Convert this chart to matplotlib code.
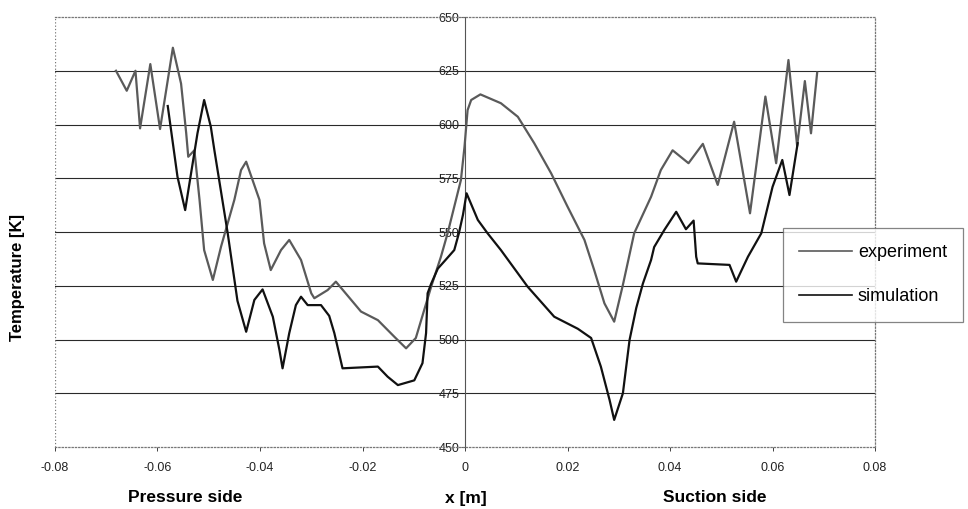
import matplotlib
matplotlib.use("Agg")
from matplotlib import pyplot as plt

plt.rcParams['font.family'] = ['Liberation Sans', 'DejaVu Sans']

# experiment (upper curve near x=0)
exp_x = [-0.0681, -0.066, -0.0643, -0.0634, -0.0614, -0.0595, -0.057, -0.0554, -0.0544,
         -0.054, -0.0528, -0.0518, -0.0509, -0.0492, -0.0476, -0.045, -0.0437, -0.0427,
         -0.0401, -0.0392, -0.0379, -0.0359, -0.0343, -0.032, -0.030, -0.0294, -0.0268,
         -0.0252, -0.0203, -0.017, -0.0138, -0.0115, -0.0096, -0.0066, -0.0047, -0.0034,
         -0.0021, -0.0008, -0.0001, 0.0005, 0.0012, 0.003, 0.007, 0.0103, 0.0135, 0.0168,
         0.020, 0.0233, 0.0252, 0.0272, 0.0291, 0.0308, 0.033, 0.0363, 0.0382, 0.0405,
         0.0436, 0.0464, 0.0493, 0.0525, 0.0556, 0.0586, 0.0607, 0.0631, 0.0648, 0.0663,
         0.0675, 0.0687]
exp_t = [625, 615.7, 625, 598.2, 628.1, 597.9, 635.7, 619, 596,
         585, 588, 565, 541.6, 527.7, 543.2, 565, 578.8, 582.7,
         564.9, 544.7, 532.3, 541.6, 546.3, 537, 521.5, 519.2, 523,
         526.9, 513, 509, 501.3, 495.9, 500.7, 524.6, 538.5, 549.4,
         561.8, 574.2, 589.7, 606.7, 611.4, 614, 609.9, 603.6, 591.3, 577.3,
         561.8, 546.3, 532.3, 516.8, 508.3, 525.4, 549.4, 566.4, 578.8, 588,
         582, 591, 571.9, 601.3, 558.7, 613, 582, 630, 590, 620.2,
         595.9, 624.1]

# simulation (lower curve near x=0)
sim_x = [-0.058, -0.0561, -0.0546, -0.0522, -0.0509, -0.0496, -0.0489, -0.0463, -0.0444,
         -0.0427, -0.0411, -0.0395, -0.0375, -0.0362, -0.0356, -0.0343, -0.033, -0.032,
         -0.0307, -0.0281, -0.0265, -0.0255, -0.0239, -0.017, -0.0151, -0.0131, -0.0099,
         -0.0083, -0.0076, -0.0073, -0.0066, -0.0053, -0.0038, -0.0021, -0.0012, -0.0004,
         0.0003, 0.0025, 0.0044, 0.007, 0.0122, 0.0174, 0.022, 0.0246, 0.0265, 0.0282,
         0.0291, 0.0308, 0.0321, 0.0334, 0.0347, 0.0363, 0.0369, 0.0389, 0.0412, 0.0431,
         0.0446, 0.0451, 0.0454, 0.0516, 0.0529, 0.0552, 0.0578, 0.060, 0.0619, 0.0633,
         0.0649]
sim_t = [608.6, 575.7, 560.2, 595.9, 611.4, 599, 588, 549.4, 518,
         503.6, 518.4, 523.3, 510.6, 495, 486.6, 502.9, 516, 519.9,
         516, 516, 511, 503, 486.6, 487.4, 482.7, 478.8, 481,
         489, 503, 521.5, 526, 533, 537, 541.6, 549.4, 558,
         568, 555.6, 549.4, 541.6, 524.6, 510.6, 505, 500.7, 487.4, 471.9,
         462.6, 475, 499.8, 514.6, 526, 537, 543, 551, 559.4, 551.3,
         555.3, 538.5, 535.4, 534.7, 526.9, 538.5, 549.4, 571, 583.5, 567.2,
         591.3]

x_ticks = [-0.08, -0.06, -0.04, -0.02, 0, 0.02, 0.04, 0.06, 0.08]
x_tick_labels = ['-0.08', '-0.06', '-0.04', '-0.02', '0', '0.02', '0.04', '0.06', '0.08']
y_ticks = [450, 475, 500, 525, 550, 575, 600, 625, 650]

fig = plt.figure(figsize=(9.68, 5.09), dpi=100)
ax = fig.add_axes([0.0568, 0.1218, 0.8472, 0.8448])

for t in y_ticks[1:-1]:
    ax.axhline(t, color='#2a2a2a', lw=0.8, zorder=1)

ax.plot(exp_x, exp_t, color='#5a5a5a', lw=1.6, label='experiment', zorder=3)
ax.plot(sim_x, sim_t, color='#111111', lw=1.6, label='simulation', zorder=3)

ax.set_xlim(-0.08, 0.08)
ax.set_ylim(450, 650)
ax.set_xticks(x_ticks)
ax.set_xticklabels(x_tick_labels)
ax.set_yticks(y_ticks)

# y axis sits at x = 0
ax.spines['left'].set_position(('data', 0))
ax.spines['left'].set_color('#555555')
ax.spines['left'].set_linewidth(0.8)
for s in ['top', 'right', 'bottom']:
    ax.spines[s].set_linestyle(':')
    ax.spines[s].set_color('#777777')
    ax.spines[s].set_linewidth(0.9)
ax.axvline(-0.08, color='#777777', lw=0.9, ls=':', zorder=1)

ax.tick_params(axis='both', labelsize=9, colors='#222222', length=3, width=0.6)
ax.tick_params(axis='x', pad=8)
ax.tick_params(axis='y', pad=1)

fig.text(0.018, 0.455, 'Temperature [K]', rotation=90, ha='center', va='center',
         fontsize=12, fontweight='bold')
fig.text(185 / 968, 1 - 498 / 509, 'Pressure side', ha='center', va='center',
         fontsize=12.5, fontweight='bold')
fig.text(466 / 968, 1 - 498 / 509, 'x [m]', ha='center', va='center',
         fontsize=12.5, fontweight='bold')
fig.text(715 / 968, 1 - 498 / 509, 'Suction side', ha='center', va='center',
         fontsize=12.5, fontweight='bold')

leg = fig.legend(loc='upper left', bbox_to_anchor=(783 / 968, 1 - 228 / 509),
                 fontsize=13, frameon=True, fancybox=False, handlelength=2.9,
                 handletextpad=0.35, labelspacing=1.5, borderpad=0.9,
                 borderaxespad=0)
leg.get_frame().set_edgecolor('#666666')
leg.get_frame().set_linewidth(0.9)
for line in leg.get_lines():
    line.set_linewidth(1.2)

fig.savefig('out.png', dpi=100)
